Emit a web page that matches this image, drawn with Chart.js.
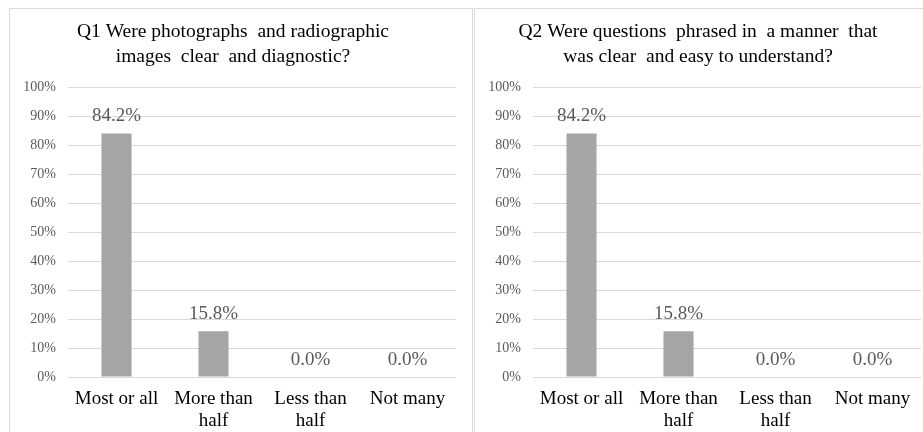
<!DOCTYPE html>
<html>
<head>
<meta charset="utf-8">
<script src="https://cdn.jsdelivr.net/npm/chart.js@4.4.1/dist/chart.umd.min.js"></script>
<style>
  html, body { margin: 0; padding: 0; background: #fff; overflow: hidden; }
  body { width: 923px; height: 432px; position: relative; }
  .panel { position: absolute; top: 8px; width: 464px; height: 440px; border: 1px solid #d9d9d9; box-sizing: border-box; }
  #p1 { left: 9px; }
  #p2 { left: 474px; }
  canvas { display: block; }
</style>
</head>
<body>
<div class="panel" id="p1"><canvas id="c1" width="462" height="430"></canvas></div>
<div class="panel" id="p2"><canvas id="c2" width="462" height="430"></canvas></div>
<script>
// categories (multi-line labels like the original)
const categories = [['Most or all'], ['More than', 'half'], ['Less than', 'half'], ['Not many']];
const q1Values = [84.2, 15.8, 0.0, 0.0];
const q2Values = [84.2, 15.8, 0.0, 0.0];
const q1Title = ['Q1 Were photographs  and radiographic', 'images  clear  and diagnostic?'];
const q2Title = ['Q2 Were questions  phrased in  a manner  that', 'was clear  and easy to understand?'];
const yTicks = [0, 10, 20, 30, 40, 50, 60, 70, 80, 90, 100];

const fontFam = '"Liberation Serif"';
Chart.defaults.font.family = fontFam;

// draws the "84.2%" labels above each bar
const barLabels = {
  id: 'barLabels',
  afterDatasetsDraw(chart) {
    const ctx = chart.ctx;
    ctx.save();
    ctx.font = '19px ' + fontFam;
    ctx.fillStyle = '#595959';
    ctx.textAlign = 'center';
    ctx.textBaseline = 'middle';
    chart.data.datasets.forEach((ds, i) => {
      chart.getDatasetMeta(i).data.forEach((bar, j) => {
        ctx.fillText(ds.data[j].toFixed(1) + '%', bar.x, bar.y - 17);
      });
    });
    ctx.restore();
  }
};

function makeChart(id, title, values) {
  return new Chart(document.getElementById(id), {
    type: 'bar',
    data: {
      labels: categories,
      datasets: [{
        data: values,
        backgroundColor: '#a5a5a5',
        borderWidth: 0,
        categoryPercentage: 1,
        barPercentage: 0.31
      }]
    },
    options: {
      responsive: false,
      animation: false,
      devicePixelRatio: 1,
      layout: { padding: { top: 0, right: 16, bottom: 0, left: 0 } },
      plugins: {
        legend: { display: false },
        tooltip: { enabled: false },
        title: {
          display: true,
          text: title,
          color: '#000',
          font: { family: fontFam, size: 19.5, weight: 'normal', lineHeight: 1.3 },
          padding: { top: 10, bottom: 18 }
        }
      },
      scales: {
        x: {
          grid: { display: false, drawTicks: false },
          border: { display: false },
          ticks: {
            color: '#000',
            font: { family: fontFam, size: 19, lineHeight: 1.15 },
            padding: 11,
            maxRotation: 0,
            autoSkip: false
          },
          afterFit(scale) { scale.height = 62; }
        },
        y: {
          min: 0,
          max: 100,
          grid: { color: '#d9d9d9', drawTicks: false },
          border: { display: false },
          afterBuildTicks(scale) { scale.ticks = yTicks.map(v => ({ value: v })); },
          ticks: {
            color: '#595959',
            font: { family: fontFam, size: 14 },
            padding: 12,
            callback: v => v + '%'
          },
          afterFit(scale) { scale.width = 58; }
        }
      }
    },
    plugins: [barLabels]
  });
}

makeChart('c1', q1Title, q1Values);
makeChart('c2', q2Title, q2Values);
</script>
</body>
</html>
